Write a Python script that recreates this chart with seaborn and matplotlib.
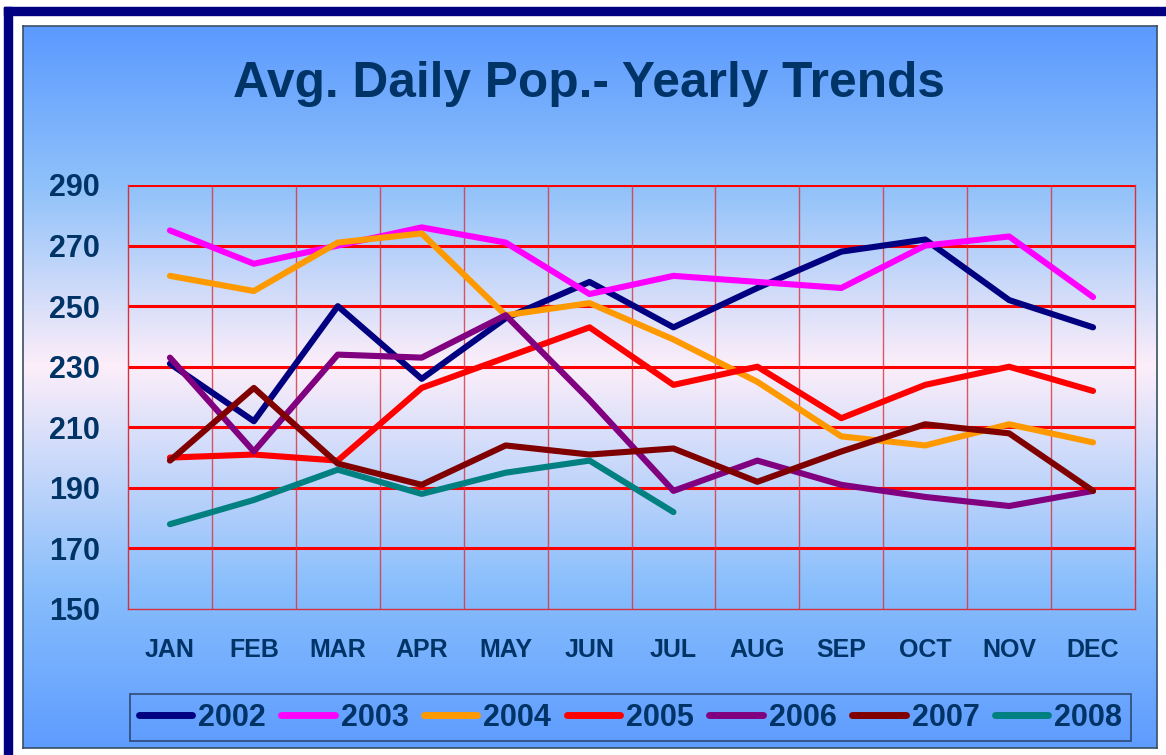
import numpy as np
import pandas as pd
import matplotlib
matplotlib.use("Agg")
import matplotlib.pyplot as plt
import seaborn as sns
from matplotlib.colors import LinearSegmentedColormap
from matplotlib.patches import Rectangle

# Monthly average daily population
months = ["JAN", "FEB", "MAR", "APR", "MAY", "JUN",
          "JUL", "AUG", "SEP", "OCT", "NOV", "DEC"]
pop_2002 = [231, 212, 250, 226, 246, 258, 243, 256, 268, 272, 252, 243]
pop_2003 = [275, 264, 270, 276, 271, 254, 260, 258, 256, 270, 273, 253]
pop_2004 = [260, 255, 271, 274, 247, 251, 239, 225, 207, 204, 211, 205]
pop_2005 = [200, 201, 199, 223, 233, 243, 224, 230, 213, 224, 230, 222]
pop_2006 = [233, 202, 234, 233, 247, 219, 189, 199, 191, 187, 184, 189]
pop_2007 = [199, 223, 198, 191, 204, 201, 203, 192, 202, 211, 208, 189]
pop_2008 = [178, 186, 196, 188, 195, 199, 182]
years = ["2002", "2003", "2004", "2005", "2006", "2007", "2008"]
colors = ["#000080", "#ff00ff", "#ff9900", "#ff0000",
          "#800080", "#800000", "#008080"]
y_ticks = [150, 170, 190, 210, 230, 250, 270, 290]

series = [pop_2002, pop_2003, pop_2004, pop_2005, pop_2006, pop_2007, pop_2008]
rows = []
for yr, vals in zip(years, series):
    for i, v in enumerate(vals):
        rows.append({"month": i, "year": yr, "pop": v})
df = pd.DataFrame(rows)

sns.set_style("white")
plt.rcParams["font.family"] = ["Liberation Sans", "DejaVu Sans"]
text_color = "#003366"

W, H = 1166, 755
fig = plt.figure(figsize=(W / 100, H / 100), dpi=100, facecolor="white")

def fx(px):
    return px / W

def fy(py):
    return 1 - py / H

# navy outer frame
fig.patches.append(Rectangle((fx(4), fy(15)), fx(1166 - 4), 8 / H,
                             transform=fig.transFigure, color="#000080", zorder=0))
fig.patches.append(Rectangle((fx(4), 0), fx(8), fy(7),
                             transform=fig.transFigure, color="#000080", zorder=0))

# gradient chart area
bg = fig.add_axes([fx(23), fy(748), fx(1157 - 23), (748 - 26) / H], zorder=0)
grad = LinearSegmentedColormap.from_list(
    "bg", [(0.0, "#5b9aff"), (0.22, "#8fc1fa"), (0.47, "#fdeef9"),
           (0.78, "#88befc"), (1.0, "#5e9cff")])
bg.imshow(np.linspace(0, 1, 256).reshape(-1, 1), aspect="auto", cmap=grad,
          extent=[0, 1, 1, 0])
bg.set_xticks([])
bg.set_yticks([])
for s in bg.spines.values():
    s.set_color("#3a4f66")
    s.set_linewidth(1.2)

ax = fig.add_axes([fx(128), fy(609), fx(1135 - 128), (609 - 185) / H], zorder=2)
ax.set_facecolor("none")

sns.lineplot(data=df, x="month", y="pop", hue="year", hue_order=years,
             palette=dict(zip(years, colors)), linewidth=4.4, ax=ax,
             solid_capstyle="round", solid_joinstyle="round", zorder=3)

ax.set_xlim(-0.5, 11.5)
ax.set_ylim(150, 290)
ax.set_yticks(y_ticks)
ax.set_xticks(range(12))
ax.set_xticklabels(months)
ax.set_xticks(np.arange(-0.5, 12, 1), minor=True)
ax.set_xlabel("")
ax.set_ylabel("")

# grid: thick red horizontals, thin verticals
for v in y_ticks[1:]:
    ax.axhline(v, color="#ff0000", lw=2.2, zorder=1)
ax.grid(False)
for b in np.arange(0.5, 11.5, 1):
    ax.axvline(b, color="#d8303c", lw=1, alpha=0.8, zorder=1)
for side in ["left", "right", "bottom"]:
    ax.spines[side].set_color("#d8303c")
    ax.spines[side].set_linewidth(1)
ax.spines["top"].set_visible(False)

ax.tick_params(axis="x", which="major", length=0, pad=21, labelsize=18,
               labelcolor=text_color)
ax.tick_params(axis="x", which="minor", length=6.5, width=1, color="#d8303c",
               direction="out")
ax.tick_params(axis="y", length=0, pad=20, labelsize=22, labelcolor=text_color)
for lab in ax.get_xticklabels() + ax.get_yticklabels():
    lab.set_fontweight("bold")

fig.text(fx(588.5), fy(97), "Avg. Daily Pop.- Yearly Trends", ha="center",
         va="baseline", fontsize=35.7, fontweight="bold", color=text_color)

handles, labels = ax.get_legend_handles_labels()
for h in handles:
    h.set_linewidth(5)
    h.set_solid_capstyle("round")
ax.get_legend().remove()
leg = fig.legend(handles, labels, loc="center", ncol=7,
                 bbox_to_anchor=(fx(630.5), fy(717.5)),
                 bbox_transform=fig.transFigure,
                 prop={"size": 22, "weight": "bold"},
                 handlelength=1.75, handletextpad=0.2, columnspacing=0.5,
                 borderpad=0.28, borderaxespad=0, fancybox=False,
                 frameon=True, edgecolor="#1f3350", facecolor="none")
leg.get_frame().set_linewidth(1.2)
for t in leg.get_texts():
    t.set_color(text_color)

fig.savefig("out.png", dpi=100, facecolor="white")
